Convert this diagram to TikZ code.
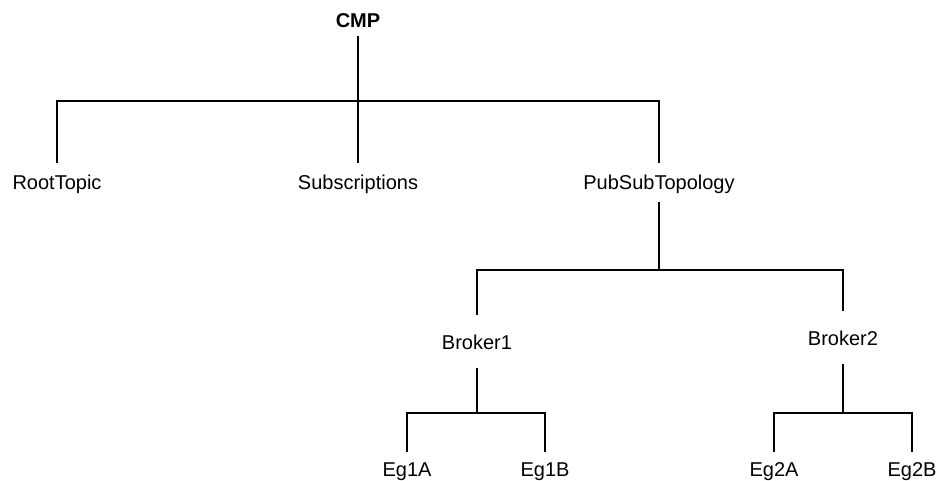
\documentclass[tikz,border=0pt]{standalone}
\usepackage{fontspec}
\setmainfont{Liberation Sans}
\begin{document}
\begin{tikzpicture}[x=1pt,y=-1pt,
  lbl/.style={anchor=base,inner xsep=0pt,text height=15pt,text depth=0pt,font=\fontsize{20}{22}\selectfont},
  top/.style={lbl,inner ysep=9pt,font=\fontsize{20}{22}\selectfont\bfseries},
  lvone/.style={lbl,inner ysep=13pt},
  lvtwo/.style={lbl,inner ysep=20pt},
  leaf/.style={lbl,inner ysep=10pt},
  edge/.style={draw,line width=1.5pt,line cap=rect}]
\useasboundingbox (0,0) rectangle (942,481);
\node[top] (cmp) at (358,28) {CMP};
\node[lvone] (root) at (57,190) {RootTopic};
\node[lvone] (sub) at (358,190) {Subscriptions};
\node[lvone] (pst) at (659,190) {PubSubTopology};
\node[lvtwo] (b1) at (477,349) {Broker1};
\node[lvtwo] (b2) at (843,345) {Broker2};
\node[leaf] (e1a) at (407,476) {Eg1A};
\node[leaf] (e1b) at (545,476) {Eg1B};
\node[leaf] (e2a) at (774,476) {Eg2A};
\node[leaf] (e2b) at (912,476) {Eg2B};
\coordinate (j0) at (358,101);
\coordinate (j1) at (659,270);
\coordinate (j2) at (477,413);
\coordinate (j3) at (843,413);
\draw[edge] (cmp.south) -- (j0);
\draw[edge] (root.north) -- (root.north |- j0) -- (pst.north |- j0) -- (pst.north);
\draw[edge] (sub.north) -- (sub.north |- j0);
\draw[edge] (pst.south) -- (j1);
\draw[edge] (b1.north) -- (b1.north |- j1) -- (b2.north |- j1) -- (b2.north);
\draw[edge] (b1.south) -- (j2);
\draw[edge] (e1a.north) -- (e1a.north |- j2) -- (e1b.north |- j2) -- (e1b.north);
\draw[edge] (b2.south) -- (j3);
\draw[edge] (e2a.north) -- (e2a.north |- j3) -- (e2b.north |- j3) -- (e2b.north);
\end{tikzpicture}
\end{document}
